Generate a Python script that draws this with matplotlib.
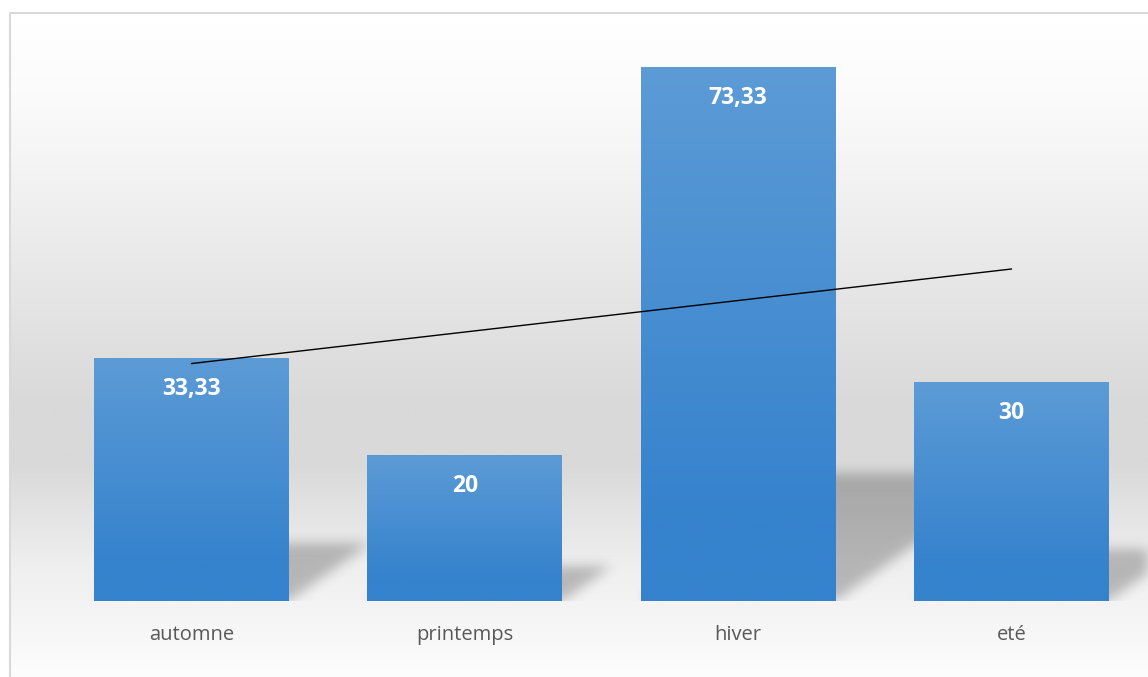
import numpy as np
import matplotlib
matplotlib.use("Agg")
from matplotlib import pyplot as plt

saisons = ["automne", "printemps", "hiver", "eté"]
valeurs = [33.33, 20, 73.33, 30]

W, H = 1148, 677
plt.rcParams['font.family'] = ['Open Sans', 'DejaVu Sans']

fig = plt.figure(figsize=(W / 100, H / 100), dpi=100)
fig.patch.set_facecolor('white')

# background layer in pixel coordinates (y pointing down)
bg = fig.add_axes([0, 0, 1, 1], zorder=0)
bg.set_xlim(0, W)
bg.set_ylim(H, 0)
bg.axis('off')

ys = np.arange(H) + 0.5
grey = np.interp(ys, [12, 100, 400, 460, 560, 677], [255, 250, 217, 217, 238, 253]) / 255
grad = np.repeat(grey[:, None], 2, axis=1)
bg.imshow(np.dstack([grad] * 3), extent=[10, W, H, 12], aspect='auto',
          interpolation='bilinear', zorder=0)
bg.plot([9.5, 9.5, W], [H, 12.5, 12.5], color='#d9d9d9', lw=1.5, zorder=1)

ax = fig.add_axes([55 / W, 1 - 601 / H, (W - 55) / W, (601 - 19.4) / H], zorder=1)
ax.patch.set_alpha(0)
x = np.arange(1, len(saisons) + 1)
bars = ax.bar(x, valeurs, width=0.713, color='none', zorder=2)
ax.set_xlim(0.5, 4.5)
ax.set_ylim(0, 80)

# perspective shadows behind the bars, blurred
mask = np.zeros((H, W))
PX, PY = np.meshgrid(np.arange(W) + 0.5, ys)
for b in bars:
    (x0, yb), (x1, yt) = ax.transData.transform([(b.get_x(), 0),
                                                 (b.get_x() + b.get_width(), b.get_height())])
    yb, yt = H - yb, H - yt
    kh = 0.24 * (yb - yt)
    d = 1.4 * kh
    t = (yb - PY) / kh
    inside = (t >= 0) & (t <= 1) & (PX >= x0 + d * t) & (PX <= x1 + d * t)
    mask = np.maximum(mask, inside.astype(float))

sig = 6.0
k = np.exp(-0.5 * (np.arange(-18, 19) / sig) ** 2)
k /= k.sum()
mask = np.apply_along_axis(lambda r: np.convolve(r, k, mode='same'), 1, mask)
mask = np.apply_along_axis(lambda c: np.convolve(c, k, mode='same'), 0, mask)
mask[601:, :] = 0
shadow = np.zeros((H, W, 4))
shadow[..., 3] = 0.24 * mask
bg.imshow(shadow, extent=[0, W, H, 0], aspect='auto', zorder=2)

# gradient fill for each bar
top_c = np.array([0x5c, 0x9b, 0xd6]) / 255
bot_c = np.array([0x35, 0x82, 0xcd]) / 255
for b, v in zip(bars, valeurs):
    f = np.clip(np.linspace(0, 1, 200) / 0.85, 0, 1)[:, None]
    col = top_c * (1 - f) + bot_c * f
    ax.imshow(col[:, None, :], extent=[b.get_x(), b.get_x() + b.get_width(), 0, v],
              aspect='auto', origin='upper', interpolation='bilinear', zorder=2)
    lab = f"{v:g}".replace('.', ',')
    ax.annotate(lab, (b.get_x() + b.get_width() / 2, v), xytext=(0, -21.6),
                textcoords='offset points', ha='center', va='center',
                color='white', fontsize=16.5, fontweight='bold', zorder=4)

# linear trend line
a, c = np.polyfit(x, valeurs, 1)
ax.plot([x[0], x[-1]], [a * x[0] + c, a * x[-1] + c], color='black', lw=1.0, zorder=3)

ax.set_xlim(0.5, 4.5)
ax.set_ylim(0, 80)
ax.set_xticks(x)
ax.set_xticklabels(saisons, color='#595959', fontsize=14.5)
ax.tick_params(axis='x', length=0, pad=17)
ax.set_yticks([])
for s in ax.spines.values():
    s.set_visible(False)

fig.savefig('out.png', dpi=100)
